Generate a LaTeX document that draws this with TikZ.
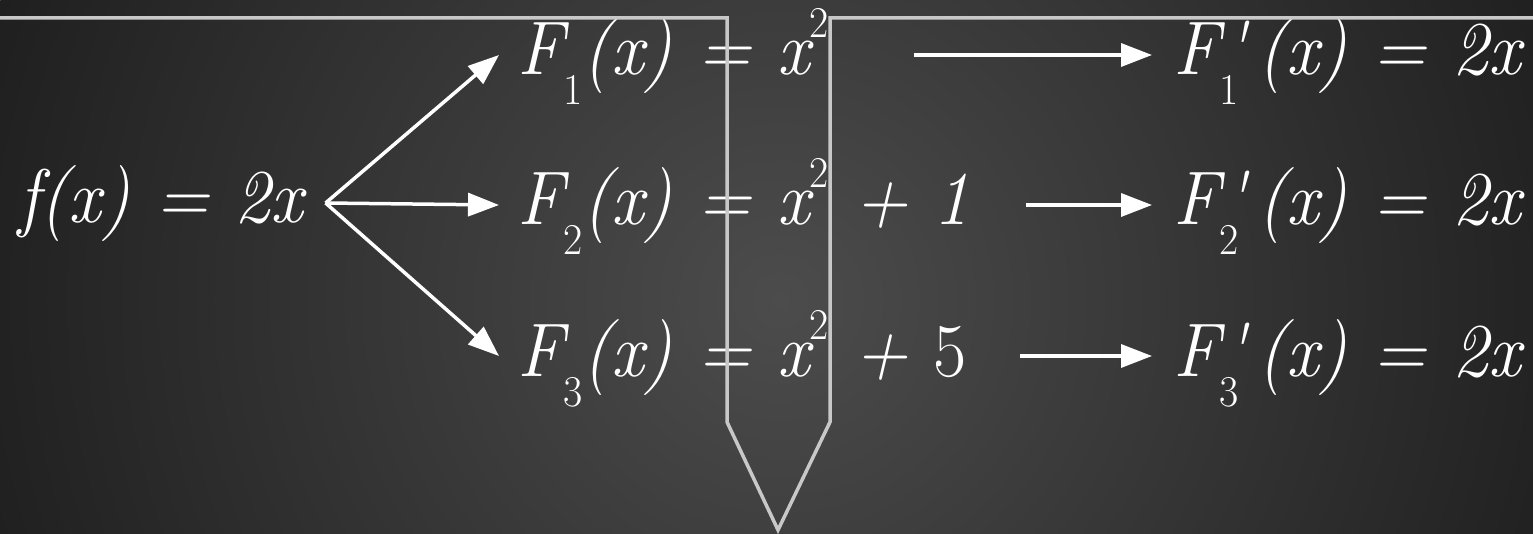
\documentclass[tikz,border=0pt]{standalone}
\usepackage{fontspec}
\setmainfont{Latin Modern Roman}[FakeStretch=0.95]
\usetikzlibrary{arrows.meta}

\definecolor{bgin}{HTML}{4C4C4C}
\definecolor{bgout}{HTML}{1F1F1F}
\definecolor{framegray}{HTML}{C8C8C8}

\newcommand{\lowdig}[1]{\raisebox{-30pt}{\fontsize{44}{44}\selectfont\upshape #1}}
\newcommand{\highdig}[1]{\raisebox{37pt}{\fontsize{44}{44}\selectfont\upshape #1}}
\newcommand{\primemark}{\textquotesingle}

\begin{document}
\begin{tikzpicture}[x=1pt,y=-1pt,
    formula/.style={text=white,inner sep=0pt,anchor=base west,font=\fontsize{76}{90}\selectfont\itshape},
    arr/.style={white,line width=3.5pt,-{Triangle[length=31pt,width=23pt]}},
    frame/.style={framegray,line width=3.5pt}]

\useasboundingbox (0,0) rectangle (1533,534);
\begin{scope}
\clip (0,0) rectangle (1533,534);
\shade[inner color=bgin,outer color=bgout] (780,300) circle (835pt);
\end{scope}

\node[formula] (f) at (18,223) {f(x) = 2x};

\node[formula] (F1) at (517,75) {F\lowdig{1}(x) = x\highdig{2}};
\node[formula] (F2) at (517,225) {F\lowdig{2}(x) = x\highdig{2} + 1};
\node[formula] (F3) at (517,376) {F\lowdig{3}(x) = x\highdig{2} + {\upshape 5}};

\node[formula] (D1) at (1173,75) {F\lowdig{1}\hspace{-14pt}\primemark\hspace{10pt}(x) = 2x};
\node[formula] (D2) at (1173,225) {F\lowdig{2}\hspace{-14pt}\primemark\hspace{10pt}(x) = 2x};
\node[formula] (D3) at (1173,376) {F\lowdig{3}\hspace{-14pt}\primemark\hspace{10pt}(x) = 2x};

\coordinate (fork) at ([xshift=22pt,yshift=20pt]f.base east);
\foreach \r in {1,2,3}
    \draw[arr] (fork) -- ([xshift=-18pt,yshift=20pt]F\r.base west);

\foreach \r/\gap in {1/85,2/56,3/53}
    \draw[arr] ([xshift=\gap pt,yshift=20pt]F\r.base east) -- ([xshift=-21pt,yshift=20pt]D\r.base west);

\draw[frame] (0,18) -- (727,18) -- (727,422) -- (778,530) -- (830,422) -- (830,18) -- (1533,18);

\end{tikzpicture}
\end{document}
